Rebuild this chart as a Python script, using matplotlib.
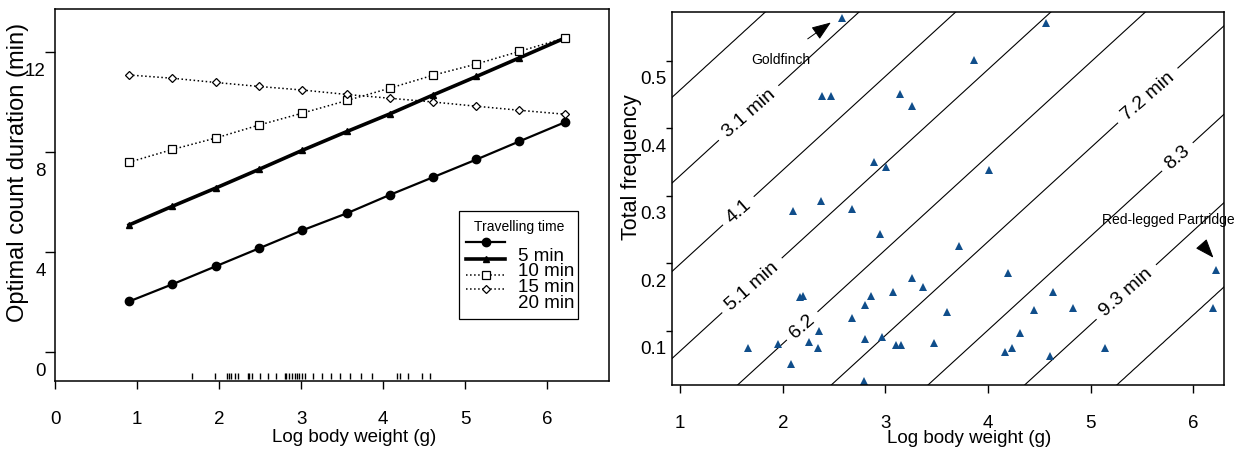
import numpy as np
import matplotlib
matplotlib.use('Agg')
import matplotlib.pyplot as plt
from matplotlib.transforms import ScaledTranslation

plt.rcParams['font.family'] = ['Liberation Sans', 'DejaVu Sans']

# optimal count duration against log body weight, one curve per travelling time
log_weight = [0.90, 1.43, 1.96, 2.49, 3.01, 3.56, 4.08, 4.61, 5.14, 5.66, 6.22]
dur_5 = [2.03, 2.72, 3.44, 4.16, 4.87, 5.56, 6.29, 7.00, 7.71, 8.43, 9.20]
dur_10 = [5.09, 5.84, 6.57, 7.32, 8.07, 8.83, 9.53, 10.29, 11.03, 11.77, 12.57]
dur_15 = [7.60, 8.11, 8.57, 9.09, 9.56, 10.07, 10.56, 11.08, 11.53, 12.03, 12.57]
dur_20 = [11.09, 10.96, 10.79, 10.63, 10.49, 10.31, 10.16, 10.01, 9.84, 9.68, 9.52]
travel_labels = ['5 min', '10 min', '15 min', '20 min']

# body weights shown as a rug under the curves
rug_weight = [1.67, 1.95, 2.09, 2.12, 2.15, 2.19, 2.23, 2.35, 2.37, 2.40, 2.50,
              2.59, 2.69, 2.80, 2.82, 2.85, 2.89, 2.93, 2.95, 2.98, 3.01, 3.05,
              3.15, 3.26, 3.37, 3.47, 3.60, 3.73, 3.87, 4.17, 4.21, 4.30, 4.47,
              4.57]

# species: log body weight and total frequency
sp_weight = [2.58, 4.56, 3.86, 2.38, 2.47, 3.14, 3.26, 2.89, 3.01, 4.01, 2.37,
             2.10, 2.67, 2.95, 3.72, 4.19, 6.22, 3.26, 3.37, 3.07, 2.86, 2.17,
             2.20, 2.80, 4.63, 4.45, 4.83, 3.60, 6.19, 2.67, 2.35, 4.31, 1.66,
             1.95, 2.25, 2.34, 2.80, 2.97, 3.10, 3.15, 3.47, 2.08, 2.79, 4.17,
             4.23, 4.60, 5.14]
sp_freq = [0.564, 0.556, 0.501, 0.448, 0.447, 0.451, 0.433, 0.350, 0.343, 0.338,
           0.292, 0.277, 0.280, 0.244, 0.226, 0.186, 0.190, 0.178, 0.165, 0.157,
           0.151, 0.150, 0.152, 0.138, 0.158, 0.131, 0.133, 0.127, 0.134, 0.119,
           0.099, 0.096, 0.074, 0.081, 0.083, 0.074, 0.088, 0.090, 0.079, 0.079,
           0.082, 0.050, 0.025, 0.068, 0.075, 0.062, 0.075]

# iso-duration contours: level and frequency intercept at log weight 1
contour_levels = [2.0, 3.1, 4.1, 5.1, 6.2, 7.2, 8.3, 9.3, 10.3]
contour_icpt = [0.457, 0.330, 0.199, 0.070, -0.058, -0.185, -0.316, -0.447, -0.572]
contour_slope = 0.139
contour_text = {3.1: '3.1 min', 4.1: '4.1', 5.1: '5.1 min', 6.2: '6.2',
                7.2: '7.2 min', 8.3: '8.3', 9.3: '9.3 min'}

fig = plt.figure(figsize=(12.39, 4.52), dpi=100)
ax1 = fig.add_axes([0.0446, 0.1549, 0.4471, 0.823])
ax2 = fig.add_axes([0.5421, 0.1471, 0.4458, 0.8248])

def shift_ylabels(ax, dy):
    off = ScaledTranslation(0, dy / 100, fig.dpi_scale_trans)
    for t in ax.yaxis.get_major_ticks():
        t.label1.set_transform(t.label1.get_transform() + off)

# ---- left panel
styles = [dict(ls='-', marker='o', lw=1.6, ms=6, mfc='k'),
          dict(ls='-', marker='^', lw=2.6, ms=5, mfc='k'),
          dict(ls=':', marker='s', lw=1.1, ms=5.5, mfc='white', mew=0.9),
          dict(ls=':', marker='D', lw=1.1, ms=4.5, mfc='white', mew=0.9)]
for ys, st in zip([dur_5, dur_10, dur_15, dur_20], styles):
    ax1.plot(log_weight, ys, color='k', **st)

ax1.plot(rug_weight, np.full(len(rug_weight), 0.014), '|', color='k', ms=5,
         mew=1, transform=ax1.get_xaxis_transform())

ax1.set_xlim(0, 6.76)
ax1.set_ylim(-1.15, 13.73)
ax1.set_xticks(range(7))
ax1.set_yticks([0, 4, 8, 12])
ax1.tick_params(axis='x', direction='out', length=6, width=1, labelsize=13.5, pad=15)
ax1.tick_params(axis='y', direction='out', length=7, width=1, labelsize=13.5, pad=0)
shift_ylabels(ax1, -16)
ax1.set_xlabel('Log body weight (g)', fontsize=13.5)
ax1.xaxis.set_label_coords(0.539, -0.1505)
ax1.xaxis.label.set_va('center')
ax1.set_ylabel('Optimal count duration (min)', fontsize=17)
ax1.yaxis.set_label_coords(-0.0673, 0.562)
ax1.yaxis.label.set_va('center')

# legend box drawn by hand
tr = ax1.transAxes
ax1.add_patch(plt.Rectangle((0.729, 0.1667), 0.214, 0.291, transform=tr,
                            fill=False, ec='k', lw=0.9))
ax1.text(0.837, 0.4175, 'Travelling time', transform=tr, ha='center',
         va='center', fontsize=10)
key_y = [0.3728, 0.328, 0.285, 0.247]
lab_y = [0.336, 0.2965, 0.2527, 0.2116]
for ky, ly, st, lab in zip(key_y, lab_y, styles, travel_labels):
    kst = dict(st)
    kst.pop('marker')
    ax1.plot([0.741, 0.812], [ky, ky], color='k', transform=tr, **kst)
    ax1.plot([0.777], [ky], color='k', transform=tr, marker=st['marker'],
             ls='none', ms=st['ms'], mfc=st['mfc'], mew=st.get('mew', 1))
    ax1.text(0.836, ly, lab, transform=tr, ha='left', va='center', fontsize=13.5)

# ---- right panel
gx, gy = np.meshgrid(np.linspace(0.8, 6.4, 300), np.linspace(0.0, 0.6, 300))
icpt = gy - contour_slope * (gx - 1)
xp = [-5.0] + contour_icpt[::-1] + [5.0]
fp = [contour_levels[-1] + 50] + contour_levels[::-1] + [contour_levels[0] - 50]
gz = np.interp(icpt, xp, fp)
cs = ax2.contour(gx, gy, gz, levels=contour_levels, colors='k', linewidths=0.8)
label_at = [(1.68, 0.42), (1.57, 0.277), (1.70, 0.167), (2.2, 0.105),
            (5.57, 0.446), (5.86, 0.355), (5.36, 0.155)]
ax2.clabel(cs, manual=label_at, fmt=lambda v: contour_text.get(round(v, 1), ''),
           fontsize=14, inline=True, inline_spacing=6)

ax2.plot(sp_weight, sp_freq, '^', color='#104E8B', ms=5.5, mew=0)

ax2.annotate('', xy=(2.49, 0.559), xytext=(2.22, 0.530),
             arrowprops=dict(arrowstyle='-|>,head_length=0.8,head_width=0.3',
                             color='k', lw=0.7, mutation_scale=15))
ax2.annotate('', xy=(6.215, 0.205), xytext=(6.10, 0.225),
             arrowprops=dict(arrowstyle='-|>,head_length=0.8,head_width=0.3',
                             color='k', lw=0.7, mutation_scale=15))
ax2.text(1.98, 0.503, 'Goldfinch', ha='center', va='center', fontsize=10)
ax2.text(5.107, 0.2655, 'Red-legged Partridge', ha='left', va='center',
         fontsize=10, clip_on=False)

ax2.set_xlim(0.916, 6.30)
ax2.set_ylim(0.0203, 0.5726)
ax2.set_xticks(range(1, 7))
ax2.set_yticks([0.1, 0.2, 0.3, 0.4, 0.5])
ax2.set_yticklabels(['0.1', '0.2', '0.3', '0.4', '0.5'])
ax2.tick_params(axis='x', direction='out', length=6, width=1, labelsize=13.5, pad=15)
ax2.tick_params(axis='y', direction='out', length=4, width=1, labelsize=13.5, pad=0)
shift_ylabels(ax2, -16)
ax2.set_xlabel('Log body weight (g)', fontsize=13.5)
ax2.xaxis.set_label_coords(0.538, -0.1408)
ax2.xaxis.label.set_va('center')
ax2.set_ylabel('Total frequency', fontsize=15.5)
ax2.yaxis.set_label_coords(-0.0724, 0.587)
ax2.yaxis.label.set_va('center')

for ax in (ax1, ax2):
    for sp in ax.spines.values():
        sp.set_linewidth(1.1)

fig.savefig('out.png', dpi=100)
